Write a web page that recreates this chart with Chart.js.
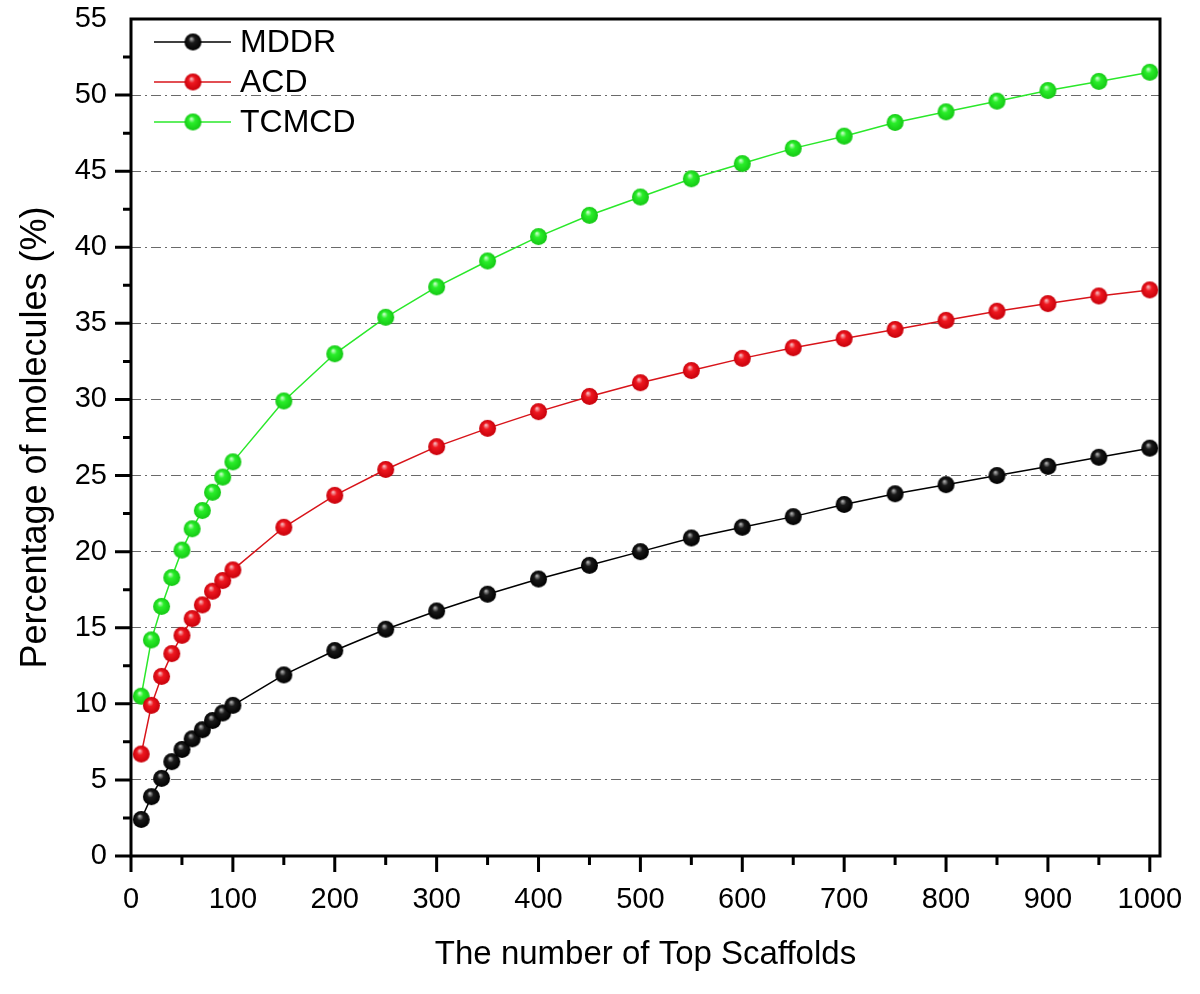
<!DOCTYPE html>
<html>
<head>
<meta charset="utf-8">
<script src="https://cdn.jsdelivr.net/npm/chart.js@4.4.1/dist/chart.umd.min.js"></script>
<style>
  body { margin: 0; background: #fff; }
  canvas { display: block; }
</style>
</head>
<body>
<canvas id="scaffoldChart" width="1200" height="994"></canvas>
<script>
// data
const topScaffolds = [10, 20, 30, 40, 50, 60, 70, 80, 90, 100,
    150, 200, 250, 300, 350, 400, 450, 500, 550, 600,
    650, 700, 750, 800, 850, 900, 950, 1000];
const mddr = [2.4, 3.9, 5.1, 6.2, 7.0, 7.7, 8.3, 8.9, 9.4, 9.9,
    11.9, 13.5, 14.9, 16.1, 17.2, 18.2, 19.1, 20.0, 20.9, 21.6,
    22.3, 23.1, 23.8, 24.4, 25.0, 25.6, 26.2, 26.8];
const acd = [6.7, 9.9, 11.8, 13.3, 14.5, 15.6, 16.5, 17.4, 18.1, 18.8,
    21.6, 23.7, 25.4, 26.9, 28.1, 29.2, 30.2, 31.1, 31.9, 32.7,
    33.4, 34.0, 34.6, 35.2, 35.8, 36.3, 36.8, 37.2];
const tcmcd = [10.5, 14.2, 16.4, 18.3, 20.1, 21.5, 22.7, 23.9, 24.9, 25.9,
    29.9, 33.0, 35.4, 37.4, 39.1, 40.7, 42.1, 43.3, 44.5, 45.5,
    46.5, 47.3, 48.2, 48.9, 49.6, 50.3, 50.9, 51.5];
const seriesNames = ["MDDR", "ACD", "TCMCD"];
const xTickValues = [0, 100, 200, 300, 400, 500, 600, 700, 800, 900, 1000];
const yTickValues = [0, 5, 10, 15, 20, 25, 30, 35, 40, 45, 50, 55];

const FONT = "'Liberation Sans', Arial, sans-serif";

// shaded ball marker
function makeBall(mid, light, dark, r) {
    const c = document.createElement("canvas");
    c.width = c.height = r * 2 + 2;
    const g = c.getContext("2d");
    const cx = r + 1, cy = r + 1;
    const grad = g.createRadialGradient(cx - r * 0.2, cy - r * 0.4, r * 0.05, cx, cy, r);
    grad.addColorStop(0, light);
    grad.addColorStop(0.35, mid);
    grad.addColorStop(1, dark);
    g.fillStyle = grad;
    g.beginPath();
    g.arc(cx, cy, r, 0, Math.PI * 2);
    g.fill();
    return c;
}

const balls = [
    makeBall("#1a1a1a", "#b0b0b0", "#000000", 8.5),
    makeBall("#ee1820", "#f6b8bc", "#c8000a", 8.5),
    makeBall("#2aee2a", "#c8ffc8", "#14c814", 8.5)
];
const lineColors = ["#000000", "#d8141a", "#2ae82a"];
const seriesData = [mddr, acd, tcmcd];

const datasets = seriesNames.map((name, i) => ({
    label: name,
    data: topScaffolds.map((x, j) => ({ x: x, y: seriesData[i][j] })),
    borderColor: lineColors[i],
    borderWidth: 1.5,
    pointStyle: balls[i],
    pointRadius: 8,
    pointHoverRadius: 8,
    tension: 0
}));

// frame, tick marks and legend
const decorations = {
    id: "decorations",
    afterDraw(chart) {
        const ctx = chart.ctx;
        const a = chart.chartArea;
        const xs = chart.scales.x, ys = chart.scales.y;
        ctx.save();
        ctx.strokeStyle = "#000";
        ctx.lineWidth = 3;
        ctx.lineCap = "butt";
        ctx.strokeRect(a.left, a.top, a.right - a.left, a.bottom - a.top);

        ctx.beginPath();
        for (let v = 0; v <= 1000; v += 50) {
            const px = xs.getPixelForValue(v);
            const len = v % 100 === 0 ? 16 : 9;
            ctx.moveTo(px, a.bottom);
            ctx.lineTo(px, a.bottom + len);
        }
        for (let v = 0; v < 55; v += 2.5) {
            const py = ys.getPixelForValue(v);
            const len = v % 5 === 0 ? 16 : 8;
            ctx.moveTo(a.left, py);
            ctx.lineTo(a.left - len, py);
        }
        ctx.stroke();

        // legend
        ctx.font = "32px " + FONT;
        ctx.textBaseline = "middle";
        ctx.textAlign = "left";
        chart.data.datasets.forEach((ds, i) => {
            const y = 42 + i * 40;
            ctx.strokeStyle = ds.borderColor;
            ctx.lineWidth = 1.5;
            ctx.beginPath();
            ctx.moveTo(154, y);
            ctx.lineTo(231, y);
            ctx.stroke();
            const img = ds.pointStyle;
            ctx.drawImage(img, 193 - img.width / 2, y - img.height / 2);
            ctx.fillStyle = "#000";
            ctx.fillText(ds.label, 240, y + 1);
        });
        ctx.restore();
    }
};

new Chart(document.getElementById("scaffoldChart"), {
    type: "line",
    data: { datasets: datasets },
    options: {
        responsive: false,
        animation: false,
        layout: { padding: { top: 19, right: 40, left: 0, bottom: 0 } },
        plugins: {
            legend: { display: false },
            tooltip: { enabled: false }
        },
        scales: {
            x: {
                type: "linear",
                min: 0,
                max: 1010,
                afterBuildTicks: (scale) => {
                    scale.ticks = xTickValues.map(v => ({ value: v }));
                },
                afterFit: (scale) => {
                    scale.height = 138;
                    scale.paddingLeft = 0;
                    scale.paddingRight = 0;
                },
                grid: { display: false, drawTicks: false },
                border: { display: false },
                ticks: {
                    color: "#000",
                    font: { family: FONT, size: 29 },
                    padding: 27,
                    maxRotation: 0,
                    callback: (v) => String(v)
                },
                title: {
                    display: true,
                    text: "The number of Top Scaffolds",
                    color: "#000",
                    font: { family: FONT, size: 33 },
                    padding: { bottom: 19 }
                }
            },
            y: {
                min: 0,
                max: 55,
                afterBuildTicks: (scale) => {
                    scale.ticks = yTickValues.map(v => ({ value: v }));
                },
                afterFit: (scale) => {
                    scale.width = 131;
                    scale.paddingTop = 0;
                    scale.paddingBottom = 0;
                },
                grid: {
                    drawTicks: false,
                    color: (c) => (c.tick && (c.tick.value === 0 || c.tick.value === 55)) ? "rgba(0,0,0,0)" : "#6a6a6a",
                    lineWidth: 1
                },
                border: { display: false, dash: [10, 4, 2, 4] },
                ticks: {
                    color: "#000",
                    font: { family: FONT, size: 29 },
                    padding: 24,
                    callback: (v) => String(v)
                },
                title: {
                    display: true,
                    text: "Percentage of molecules (%)",
                    color: "#000",
                    font: { family: FONT, size: 36 },
                    padding: { top: 14 }
                }
            }
        }
    },
    plugins: [decorations]
});
</script>
</body>
</html>
